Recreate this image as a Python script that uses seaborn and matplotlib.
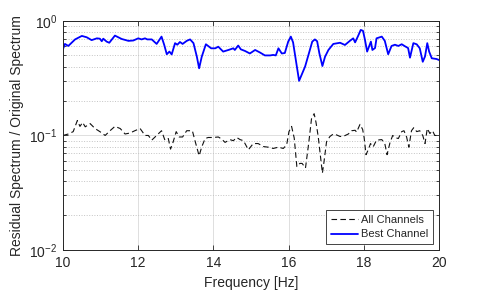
import numpy as np
import pandas as pd
import matplotlib
matplotlib.use('Agg')
import matplotlib.pyplot as plt
from matplotlib.ticker import NullLocator, LogLocator
import seaborn as sns

# ratio of residual to original spectrum
best_freq = [10.00, 10.05, 10.14, 10.32, 10.50, 10.63, 10.76, 10.90, 10.98, 11.03, 11.07, 11.16, 11.23,
             11.38, 11.56, 11.74, 11.87, 12.00, 12.09, 12.18, 12.24, 12.36, 12.49, 12.62, 12.69, 12.76,
             12.83, 12.89, 12.98, 13.04, 13.11, 13.18, 13.29, 13.38, 13.47, 13.56, 13.62, 13.69, 13.80,
             13.94, 14.05, 14.13, 14.26, 14.40, 14.53, 14.57, 14.66, 14.73, 14.84, 14.97, 15.11, 15.24,
             15.37, 15.51, 15.59, 15.66, 15.73, 15.82, 15.90, 15.99, 16.06, 16.12, 16.22, 16.28, 16.35,
             16.44, 16.54, 16.63, 16.70, 16.76, 16.82, 16.90, 16.97, 17.06, 17.19, 17.37, 17.50, 17.63,
             17.72, 17.77, 17.85, 17.92, 17.98, 18.03, 18.09, 18.19, 18.23, 18.30, 18.34, 18.48, 18.56,
             18.65, 18.74, 18.83, 18.92, 19.01, 19.10, 19.18, 19.23, 19.32, 19.41, 19.49, 19.57, 19.63,
             19.69, 19.74, 19.81, 19.94, 20.00]
best_ratio = [0.57, 0.63, 0.605, 0.69, 0.74, 0.72, 0.68, 0.705, 0.70, 0.665, 0.70, 0.66, 0.645,
              0.745, 0.696, 0.67, 0.675, 0.705, 0.69, 0.705, 0.69, 0.69, 0.63, 0.73, 0.62, 0.512,
              0.54, 0.51, 0.64, 0.62, 0.655, 0.63, 0.67, 0.69, 0.64, 0.487, 0.386, 0.487, 0.626,
              0.577, 0.577, 0.596, 0.54, 0.558, 0.577, 0.558, 0.61, 0.565, 0.547, 0.52, 0.558, 0.53,
              0.50, 0.50, 0.505, 0.50, 0.577, 0.52, 0.525, 0.66, 0.73, 0.65, 0.40, 0.30, 0.34,
              0.40, 0.52, 0.66, 0.69, 0.665, 0.52, 0.404, 0.487, 0.558, 0.63, 0.645, 0.617, 0.67,
              0.705, 0.65, 0.74, 0.835, 0.82, 0.69, 0.54, 0.66, 0.558, 0.58, 0.705, 0.73, 0.67,
              0.512, 0.605, 0.62, 0.605, 0.626, 0.60, 0.58, 0.478, 0.64, 0.625, 0.577, 0.44, 0.49,
              0.64, 0.54, 0.472, 0.465, 0.456]

all_freq = [10.00, 10.14, 10.27, 10.38, 10.45, 10.52, 10.59, 10.72, 10.85, 10.98, 11.12, 11.25, 11.38,
            11.52, 11.65, 11.78, 11.91, 12.05, 12.18, 12.27, 12.36, 12.49, 12.62, 12.71, 12.80, 12.86,
            12.93, 13.01, 13.09, 13.18, 13.29, 13.38, 13.44, 13.51, 13.62, 13.69, 13.78, 13.86, 14.00,
            14.13, 14.22, 14.31, 14.44, 14.53, 14.62, 14.71, 14.80, 14.93, 15.06, 15.19, 15.33, 15.46,
            15.59, 15.73, 15.86, 15.95, 16.01, 16.08, 16.15, 16.22, 16.30, 16.36, 16.45, 16.54, 16.61,
            16.68, 16.73, 16.79, 16.85, 16.90, 16.94, 17.01, 17.10, 17.19, 17.28, 17.37, 17.45, 17.59,
            17.68, 17.77, 17.81, 17.90, 17.97, 18.01, 18.06, 18.12, 18.18, 18.25, 18.34, 18.48, 18.56,
            18.62, 18.70, 18.77, 18.83, 18.92, 19.01, 19.07, 19.14, 19.20, 19.27, 19.33, 19.41, 19.49,
            19.57, 19.63, 19.69, 19.76, 19.83, 19.89, 19.98, 20.00]
all_ratio = [0.10, 0.103, 0.108, 0.135, 0.12, 0.13, 0.119, 0.127, 0.115, 0.108, 0.10, 0.11, 0.12,
             0.115, 0.103, 0.105, 0.11, 0.115, 0.10, 0.10, 0.091, 0.10, 0.11, 0.091, 0.094, 0.076,
             0.088, 0.108, 0.097, 0.097, 0.11, 0.11, 0.11, 0.09, 0.0665, 0.0795, 0.094, 0.096, 0.096,
             0.097, 0.093, 0.087, 0.092, 0.09, 0.096, 0.092, 0.09, 0.075, 0.085, 0.085, 0.08, 0.079,
             0.077, 0.079, 0.077, 0.083, 0.108, 0.12, 0.095, 0.0535, 0.057, 0.057, 0.052, 0.088, 0.14,
             0.155, 0.13, 0.097, 0.065, 0.047, 0.058, 0.088, 0.098, 0.103, 0.101, 0.098, 0.098, 0.103,
             0.11, 0.111, 0.107, 0.125, 0.113, 0.096, 0.068, 0.075, 0.085, 0.0795, 0.091, 0.092, 0.085,
             0.068, 0.087, 0.10, 0.096, 0.094, 0.108, 0.11, 0.097, 0.079, 0.11, 0.117, 0.108, 0.11,
             0.10, 0.085, 0.115, 0.104, 0.11, 0.10, 0.10, 0.101]

sns.set_theme(style='ticks')
plt.rcParams['font.family'] = ['Liberation Sans', 'DejaVu Sans']
plt.rcParams['mathtext.default'] = 'regular'
dark = '#262626'

fig = plt.figure(figsize=(4.85, 2.91), dpi=100)
ax = fig.add_axes([0.130, 0.141, 0.775, 0.787])

df_all = pd.DataFrame({'freq': all_freq, 'ratio': all_ratio})
df_best = pd.DataFrame({'freq': best_freq, 'ratio': best_ratio})

sns.lineplot(data=df_all, x='freq', y='ratio', ax=ax, estimator=None, color='#111111',
             linewidth=0.8, linestyle=(0, (5, 3)), label='All Channels')
sns.lineplot(data=df_best, x='freq', y='ratio', ax=ax, estimator=None, color='#0000ff',
             linewidth=1.3, label='Best Channel')

ax.set_yscale('log')
ax.set_xlim(10, 20)
ax.set_ylim(1e-2, 1)
ax.set_xticks([10, 12, 14, 16, 18, 20])
ax.xaxis.set_minor_locator(NullLocator())
ax.yaxis.set_major_locator(LogLocator(base=10, numticks=5))

ax.grid(True, which='major', color='#dedede', linewidth=0.7, linestyle='-')
ax.grid(True, which='minor', axis='y', color='#c4c4c4', linewidth=0.7, linestyle=':')
ax.set_axisbelow(True)

ax.tick_params(which='both', direction='in', top=True, right=True, colors=dark,
               labelsize=10, width=0.6)
ax.tick_params(which='major', length=3.5, pad=4)
ax.tick_params(which='minor', length=2)
for sp in ax.spines.values():
    sp.set_color(dark)
    sp.set_linewidth(0.7)

ax.set_xlabel('Frequency [Hz]', fontsize=10, color=dark, labelpad=5)
ax.set_ylabel('Residual Spectrum / Original Spectrum', fontsize=10, color=dark, labelpad=4)

leg = ax.legend(loc='lower right', fontsize=8, frameon=True, fancybox=False, framealpha=1,
                edgecolor=dark, borderaxespad=0.5, handlelength=2.4, handletextpad=0.3,
                borderpad=0.45, labelspacing=0.4)
leg.get_frame().set_linewidth(0.6)
for txt in leg.get_texts():
    txt.set_color(dark)

fig.savefig('out.png', dpi=100)
